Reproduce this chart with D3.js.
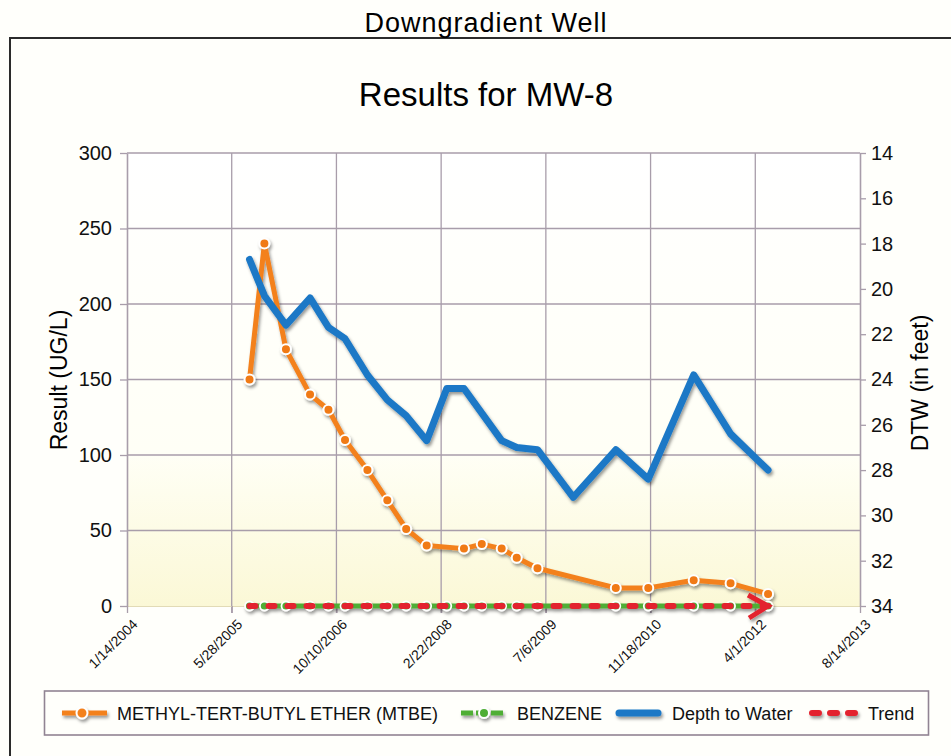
<!DOCTYPE html>
<html>
<head>
<meta charset="utf-8">
<script src="https://cdn.jsdelivr.net/npm/d3@7"></script>
<style>
  body { margin: 0; background: #fffffb; }
  svg { display: block; font-family: "Liberation Sans", Arial, sans-serif; }
</style>
</head>
<body>
<div id="chart"></div>
<script>
// sample dates and values
var mtbeDates = ["2005-08-21","2005-10-31","2006-02-11","2006-06-06","2006-09-02","2006-11-20",
  "2007-03-07","2007-06-10","2007-09-08","2007-12-15","2008-06-10","2008-09-03","2008-12-07",
  "2009-02-17","2009-05-27","2010-06-05","2010-11-07","2011-06-12","2011-12-05","2012-06-01"];
var mtbeValues = [150, 240, 170, 140, 130, 110, 90, 70, 51, 40, 38, 41, 38, 32, 25, 12, 12, 17, 15, 8];

var benzeneDates = ["2005-08-21","2005-10-31","2006-02-11","2006-06-06","2006-09-02","2006-11-20",
  "2007-03-07","2007-06-10","2007-09-08","2007-12-15","2008-03-20","2008-06-10","2008-09-03",
  "2008-12-07","2009-02-17","2009-05-27","2010-06-05","2010-11-07","2011-06-12","2011-12-05","2012-06-01"];
var benzeneValues = [0,0,0,0,0,0,0,0,0,0,0,0,0,0,0,0,0,0,0,0,0];

var dtwDates = ["2005-08-21","2005-10-31","2006-02-11","2006-06-06","2006-09-02","2006-11-20",
  "2007-03-07","2007-06-10","2007-09-08","2007-12-15","2008-03-20","2008-06-10","2008-12-07",
  "2009-02-17","2009-05-27","2009-11-14","2010-06-05","2010-11-07","2011-06-12","2011-12-05","2012-06-01"];
var dtwValues = [18.7, 20.3, 21.6, 20.4, 21.7, 22.2, 23.8, 24.9, 25.6, 26.7, 24.4, 24.4, 26.7,
  27.0, 27.1, 29.2, 27.1, 28.4, 23.8, 26.4, 28.0];

var trendDates = ["2005-08-21","2012-06-01"];
var trendValues = [0, 0];

var dateTicks = ["2004-01-14","2005-05-28","2006-10-10","2008-02-22","2009-07-06","2010-11-18","2012-04-01","2013-08-14"];
var resultTicks = [0, 50, 100, 150, 200, 250, 300];
var dtwTicks = [14, 16, 18, 20, 22, 24, 26, 28, 30, 32, 34];

var parse = d3.timeParse("%Y-%m-%d");
var fmt = d3.timeFormat("%-m/%-d/%Y");

var width = 951, height = 756;
var plot = {left: 127, right: 860, top: 153, bottom: 606};
var gridColor = "#a89daa";

var svg = d3.select("#chart").append("svg")
  .attr("width", width)
  .attr("height", height);

var defs = svg.append("defs");
// user space region so flat lines (zero height bbox) still get drawn
defs.append("filter").attr("id", "shadow")
  .attr("filterUnits", "userSpaceOnUse")
  .attr("x", 0).attr("y", 0).attr("width", width).attr("height", height)
  .append("feDropShadow")
  .attr("dx", 1.5).attr("dy", 2.5).attr("stdDeviation", 1.4)
  .attr("flood-color", "#000").attr("flood-opacity", 0.4);

var grad = defs.append("linearGradient").attr("id", "plotbg")
  .attr("x1", 0).attr("y1", 0).attr("x2", 0).attr("y2", 1);
grad.append("stop").attr("offset", "0%").attr("stop-color", "#ffffff");
grad.append("stop").attr("offset", "66%").attr("stop-color", "#fffff6");
grad.append("stop").attr("offset", "100%").attr("stop-color", "#fbf8d6");

svg.append("rect").attr("width", width).attr("height", height).attr("fill", "#fffffb");

// outer frame
svg.append("path")
  .attr("d", "M10," + height + "V38H" + width)
  .attr("fill", "none").attr("stroke", "#2b2b2b").attr("stroke-width", 2);

svg.append("text")
  .attr("x", 486).attr("y", 32)
  .attr("text-anchor", "middle")
  .style("font-size", "27px").style("letter-spacing", "1px")
  .text("Downgradient Well");

svg.append("text")
  .attr("x", 486).attr("y", 106)
  .attr("text-anchor", "middle")
  .style("font-size", "33px")
  .text("Results for MW-8");

// scales
var x = d3.scaleTime()
  .domain([parse(dateTicks[0]), parse(dateTicks[dateTicks.length - 1])])
  .range([plot.left, plot.right]);
var yL = d3.scaleLinear().domain([0, 300]).range([plot.bottom, plot.top]);
var yR = d3.scaleLinear().domain([34, 14]).range([plot.bottom, plot.top]);

svg.append("rect")
  .attr("x", plot.left).attr("y", plot.top)
  .attr("width", plot.right - plot.left).attr("height", plot.bottom - plot.top)
  .attr("fill", "url(#plotbg)");

// gridlines
svg.append("g").selectAll("line")
  .data(resultTicks.filter(function(d) { return d > 0; }))
  .enter().append("line")
  .attr("x1", plot.left).attr("x2", plot.right)
  .attr("y1", function(d) { return yL(d); })
  .attr("y2", function(d) { return yL(d); })
  .attr("stroke", gridColor).attr("stroke-width", 1.3);

svg.append("g").selectAll("line")
  .data(dateTicks.slice(1, -1))
  .enter().append("line")
  .attr("x1", function(d) { return x(parse(d)); })
  .attr("x2", function(d) { return x(parse(d)); })
  .attr("y1", plot.top).attr("y2", plot.bottom + 7)
  .attr("stroke", gridColor).attr("stroke-width", 1.3);

// axes
var xAxis = d3.axisBottom(x)
  .tickValues(dateTicks.map(parse))
  .tickFormat(fmt)
  .tickSize(7).tickSizeOuter(0);

var gx = svg.append("g")
  .attr("transform", "translate(0," + plot.bottom + ")")
  .call(xAxis);
gx.select(".domain").attr("stroke", "#e2dbb6").attr("stroke-width", 1.2);
gx.selectAll(".tick line").attr("stroke", gridColor).attr("stroke-width", 1.3);
gx.selectAll(".tick text")
  .attr("y", 0).attr("dy", "0.72em")
  .attr("transform", "translate(4,12) rotate(-45)")
  .style("text-anchor", "end")
  .style("font-size", "14px")
  .attr("fill", "#111");

var gl = svg.append("g")
  .attr("transform", "translate(" + plot.left + ",0)")
  .call(d3.axisLeft(yL).tickValues(resultTicks).tickSize(7).tickSizeOuter(0).tickPadding(8));
var gr = svg.append("g")
  .attr("transform", "translate(" + plot.right + ",0)")
  .call(d3.axisRight(yR).tickValues(dtwTicks).tickSize(6).tickSizeOuter(0).tickPadding(5));

[gl, gr].forEach(function(g) {
  g.select(".domain").attr("stroke", gridColor).attr("stroke-width", 1.6);
  g.selectAll(".tick line").attr("stroke", gridColor).attr("stroke-width", 1.3);
  g.selectAll(".tick text").style("font-size", "20px").attr("fill", "#111");
});

svg.append("text")
  .attr("transform", "translate(67,380) rotate(-90)")
  .attr("text-anchor", "middle")
  .style("font-size", "23px")
  .text("Result (UG/L)");

svg.append("text")
  .attr("transform", "translate(928,383) rotate(-90)")
  .attr("text-anchor", "middle")
  .style("font-size", "23px")
  .text("DTW (in feet)");

// series
function pairs(dates, values) {
  return dates.map(function(d, i) { return {date: parse(d), value: values[i]}; });
}
var mtbe = pairs(mtbeDates, mtbeValues);
var benzene = pairs(benzeneDates, benzeneValues);
var dtw = pairs(dtwDates, dtwValues);
var trend = pairs(trendDates, trendValues);

var lineL = d3.line()
  .x(function(d) { return x(d.date); })
  .y(function(d) { return yL(d.value); });
var lineR = d3.line()
  .x(function(d) { return x(d.date); })
  .y(function(d) { return yR(d.value); });

var series = svg.append("g").attr("filter", "url(#shadow)");

// MTBE
series.append("path")
  .datum(mtbe)
  .attr("d", lineL)
  .attr("fill", "none").attr("stroke", "#f3811e")
  .attr("stroke-width", 5).attr("stroke-linejoin", "round");
series.append("g").selectAll("circle")
  .data(mtbe)
  .enter().append("circle")
  .attr("cx", function(d) { return x(d.date); })
  .attr("cy", function(d) { return yL(d.value); })
  .attr("r", 5)
  .attr("fill", "#f07a12").attr("stroke", "#fff").attr("stroke-width", 2);

// Benzene
series.append("path")
  .datum(benzene)
  .attr("d", lineL)
  .attr("fill", "none").attr("stroke", "#4fae36")
  .attr("stroke-width", 5);
series.append("g").selectAll("circle")
  .data(benzene)
  .enter().append("circle")
  .attr("cx", function(d) { return x(d.date); })
  .attr("cy", function(d) { return yL(d.value); })
  .attr("r", 4.5)
  .attr("fill", "#4fae36").attr("stroke", "#fff").attr("stroke-width", 1.8);

// Depth to water
series.append("path")
  .datum(dtw)
  .attr("d", lineR)
  .attr("fill", "none").attr("stroke", "#1c78c6")
  .attr("stroke-width", 7).attr("stroke-linejoin", "round").attr("stroke-linecap", "round");

// Trend
series.append("path")
  .datum(trend)
  .attr("d", lineL)
  .attr("fill", "none").attr("stroke", "#e3222f")
  .attr("stroke-width", 6).attr("stroke-linecap", "round")
  .attr("stroke-dasharray", "6,13");
var tEnd = trend[trend.length - 1];
series.append("path")
  .attr("d", "M" + (x(tEnd.date) - 20) + "," + (yL(tEnd.value) - 11)
    + "L" + x(tEnd.date) + "," + yL(tEnd.value)
    + "L" + (x(tEnd.date) - 19) + "," + (yL(tEnd.value) + 12))
  .attr("fill", "none").attr("stroke", "#e3222f")
  .attr("stroke-width", 5).attr("stroke-linejoin", "miter");

// legend
var legend = svg.append("g");
legend.append("rect")
  .attr("x", 44.5).attr("y", 691).attr("width", 884).attr("height", 44)
  .attr("fill", "none").attr("stroke", "#918493").attr("stroke-width", 1.6);

var ly = 713;
var items = [
  {label: "METHYL-TERT-BUTYL ETHER (MTBE)", x0: 62, tx: 117, color: "#f3811e", kind: "dot"},
  {label: "BENZENE", x0: 461, tx: 517, color: "#4fae36", kind: "dashdot"},
  {label: "Depth to Water", x0: 616, tx: 672, color: "#1c78c6", kind: "thick"},
  {label: "Trend", x0: 809, tx: 868, color: "#e3222f", kind: "dash"}
];

items.forEach(function(it) {
  var g = legend.append("g").attr("filter", "url(#shadow)");
  if (it.kind == "dot") {
    g.append("line").attr("x1", it.x0).attr("x2", it.x0 + 45).attr("y1", ly).attr("y2", ly)
      .attr("stroke", it.color).attr("stroke-width", 5);
    g.append("circle").attr("cx", it.x0 + 20).attr("cy", ly).attr("r", 5.5)
      .attr("fill", it.color).attr("stroke", "#fff").attr("stroke-width", 2);
  } else if (it.kind == "dashdot") {
    g.append("line").attr("x1", it.x0).attr("x2", it.x0 + 45).attr("y1", ly).attr("y2", ly)
      .attr("stroke", it.color).attr("stroke-width", 5).attr("stroke-dasharray", "12,3");
    g.append("circle").attr("cx", it.x0 + 23).attr("cy", ly).attr("r", 5)
      .attr("fill", it.color).attr("stroke", "#fff").attr("stroke-width", 2);
  } else if (it.kind == "thick") {
    g.append("line").attr("x1", it.x0 + 3).attr("x2", it.x0 + 42).attr("y1", ly).attr("y2", ly)
      .attr("stroke", it.color).attr("stroke-width", 7).attr("stroke-linecap", "round");
  } else {
    g.append("line").attr("x1", it.x0 + 3).attr("x2", it.x0 + 46).attr("y1", ly).attr("y2", ly)
      .attr("stroke", it.color).attr("stroke-width", 6).attr("stroke-linecap", "round")
      .attr("stroke-dasharray", "7,11");
  }
  legend.append("text")
    .attr("x", it.tx).attr("y", ly + 6.5)
    .style("font-size", "18px")
    .attr("fill", "#111")
    .text(it.label);
});
</script>
</body>
</html>
